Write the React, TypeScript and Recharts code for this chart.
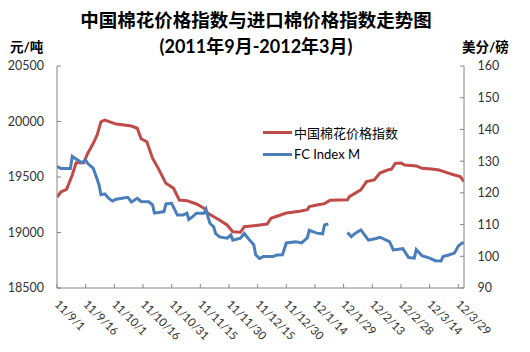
import React from 'react';
import { LineChart, Line, XAxis, YAxis, Legend } from 'recharts';

const FONT = "Lato, 'Noto Sans CJK SC', sans-serif";

const titleLine1 = '中国棉花价格指数与进口棉价格指数走势图';
const titleLine2 = '(2011年9月-2012年3月)';
const leftUnit = '元/吨';
const rightUnit = '美分/磅';

const tickDays = [0, 15, 30, 45, 60, 75, 90, 105, 120, 135, 150, 165, 180, 195, 210];
const tickLabels = [
  '11/9/1', '11/9/16', '11/10/1', '11/10/16', '11/10/31', '11/11/15', '11/11/30',
  '11/12/15', '11/12/30', '12/1/14', '12/1/29', '12/2/13', '12/2/28', '12/3/14', '12/3/29',
];
const leftTicks = [18500, 19000, 19500, 20000, 20500];
const rightTicks = [90, 100, 110, 120, 130, 140, 150, 160];

const seriesNames = ['中国棉花价格指数', 'FC Index M'];
const seriesColors = ['#BE4B48', '#4A7EBB'];

// days since 2011-09-01
const chinaDays = [0, 2, 5, 8, 10, 14, 16, 19, 21, 23, 25, 28, 31, 39, 42, 44, 47, 50, 53, 57, 61, 64, 68, 73, 77, 79, 85, 89, 92, 96, 98, 103, 110, 112, 117, 120, 127, 131, 132, 136, 140, 143, 152, 153, 159, 162, 166, 169, 173, 175, 177, 180, 182, 188, 191, 196, 200, 204, 208, 211, 213];
const chinaValues = [19320, 19365, 19389, 19518, 19629, 19629, 19710, 19804, 19878, 19998, 20013, 19995, 19977, 19959, 19939, 19845, 19818, 19669, 19578, 19443, 19398, 19293, 19287, 19257, 19218, 19173, 19113, 19068, 19007, 19002, 19052, 19061, 19076, 19128, 19158, 19176, 19192, 19205, 19233, 19248, 19260, 19291, 19295, 19323, 19385, 19458, 19474, 19535, 19563, 19570, 19623, 19625, 19608, 19600, 19578, 19572, 19563, 19540, 19518, 19503, 19460];

const fcDays = [0, 2, 7, 8, 10, 13, 15, 16, 19, 21, 22, 23, 25, 27, 29, 31, 37, 39, 42, 44, 48, 50, 51, 54, 56, 57, 60, 63, 66, 68, 69, 71, 73, 77, 78, 79, 80, 82, 83, 85, 89, 91, 92, 96, 98, 100, 103, 104, 106, 108, 113, 115, 118, 120, 125, 128, 131, 132, 136, 139, 140, 142, 147, 152, 154, 156, 159, 163, 167, 169, 174, 176, 181, 184, 187, 188, 191, 195, 198, 201, 202, 205, 208, 210, 212, 213];
const fcValues: (number | null)[] = [128.4, 127.7, 127.7, 131.5, 130.7, 129.5, 130.4, 129.3, 127.7, 124.3, 122.5, 119.4, 119.7, 118.3, 117.4, 118.0, 118.6, 117.1, 118.3, 117.3, 117.2, 116.2, 113.6, 113.9, 114.1, 116.5, 116.7, 113.0, 113.0, 113.6, 111.6, 112.5, 113.6, 113.6, 114.8, 112.5, 110.4, 109.3, 107.2, 106.1, 105.7, 106.7, 105.1, 105.7, 107.2, 105.7, 103.6, 100.5, 99.3, 99.9, 99.9, 100.4, 100.5, 104.2, 104.6, 104.2, 105.8, 108.2, 107.3, 107.1, 109.9, 110.2, null, 107.5, 106.2, 107.2, 108.3, 105.1, 105.6, 106.0, 104.6, 102.0, 102.4, 99.6, 99.4, 102.1, 100.2, 99.4, 98.6, 98.5, 99.9, 100.4, 101.0, 103.2, 104.2, 104.2];

const chinaData = chinaDays.map((d, i) => ({ day: d, value: chinaValues[i] }));
const fcData = fcDays.map((d, i) => ({ day: d, value: fcValues[i] }));

const AXIS_COLOR = '#868686';
const TEXT_COLOR = '#333333';

const XTick = (props: any) => {
  const { x, y, payload } = props;
  const idx = tickDays.indexOf(payload.value);
  const ax = x - 3;
  return (
    <text
      x={ax}
      y={y}
      transform={`rotate(45, ${ax}, ${y})`}
      textAnchor="start"
      fontSize={11.5}
      fontFamily={FONT}
      fill={TEXT_COLOR}
    >
      {idx >= 0 ? tickLabels[idx] : ''}
    </text>
  );
};

const renderLegend = () => (
  <div style={{ fontFamily: FONT, fontSize: 13, color: '#000' }}>
    {seriesNames.map((n, i) => (
      <div key={n} style={{ display: 'flex', alignItems: 'center', height: 22 }}>
        <span style={{ display: 'inline-block', width: 29, height: 3, background: seriesColors[i], marginRight: 2 }} />
        <span>{n}</span>
      </div>
    ))}
  </div>
);

export default function App() {
  return (
    <div style={{ position: 'absolute', left: 0, top: 0, width: 530, height: 352, background: '#fff' }}>
      <LineChart width={530} height={352} margin={{ top: 66, right: 0, bottom: 0, left: 0 }}>
        <XAxis
          dataKey="day"
          type="number"
          domain={[0, 213]}
          ticks={tickDays}
          allowDataOverflow
          height={64}
          stroke={AXIS_COLOR}
          tickSize={-4}
          tickMargin={21}
          tick={<XTick />}
          interval={0}
        />
        <YAxis
          yAxisId="left"
          orientation="left"
          width={57}
          domain={[18500, 20500]}
          ticks={leftTicks}
          stroke={AXIS_COLOR}
          tickSize={-4}
          tickMargin={17}
          tick={{ fontSize: 12.5, fontFamily: FONT, fill: TEXT_COLOR }}
          interval={0}
        />
        <YAxis
          yAxisId="right"
          orientation="right"
          width={66}
          domain={[90, 160]}
          ticks={rightTicks}
          stroke={AXIS_COLOR}
          tickSize={-4}
          tickMargin={17.5}
          tick={{ fontSize: 12.5, fontFamily: FONT, fill: TEXT_COLOR, textAnchor: 'start' }}
          interval={0}
        />
        <Legend
          layout="horizontal"
          verticalAlign="middle"
          align="center"
          content={renderLegend}
          wrapperStyle={{ position: 'absolute', left: 263, top: 121, width: 200, height: 44 }}
        />
        <Line
          yAxisId="left"
          data={chinaData}
          dataKey="value"
          name={seriesNames[0]}
          stroke={seriesColors[0]}
          strokeWidth={3}
          dot={false}
          activeDot={false}
          type="linear"
          isAnimationActive={false}
        />
        <Line
          yAxisId="right"
          data={fcData}
          dataKey="value"
          name={seriesNames[1]}
          stroke={seriesColors[1]}
          strokeWidth={3}
          dot={false}
          activeDot={false}
          type="linear"
          connectNulls={false}
          isAnimationActive={false}
        />
      </LineChart>
      <svg width={530} height={352} style={{ position: 'absolute', left: 0, top: 0, pointerEvents: 'none' }}>
        <text x={256} y={27} textAnchor="middle" fontSize={18.5} fontWeight="bold" fontFamily={FONT} fill="#000">
          {titleLine1}
        </text>
        <text x={256} y={53} textAnchor="middle" fontSize={18} fontWeight="bold" fontFamily={FONT} fill="#000">
          {titleLine2}
        </text>
        <text x={10} y={52} textAnchor="start" fontSize={13.5} fontWeight="bold" fontFamily={FONT} fill="#000">
          {leftUnit}
        </text>
        <text x={462} y={52} textAnchor="start" fontSize={13.5} fontWeight="bold" fontFamily={FONT} fill="#000">
          {rightUnit}
        </text>
      </svg>
    </div>
  );
}
